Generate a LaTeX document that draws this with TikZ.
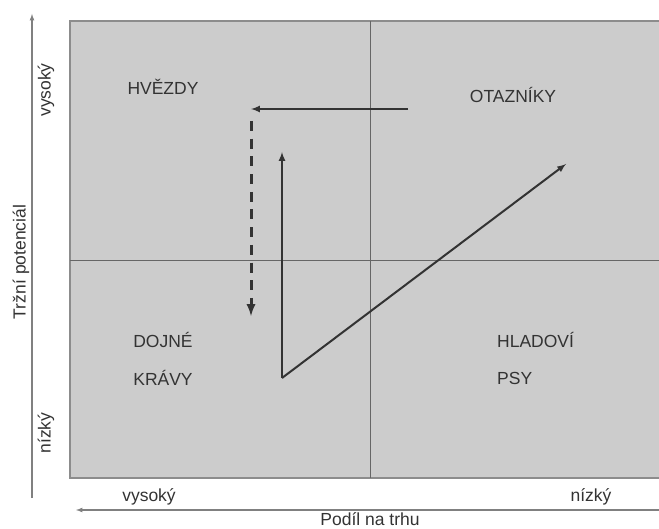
\documentclass[tikz,border=0pt]{standalone}
\usepackage{fontspec}
\setmainfont{Liberation Sans}
\usetikzlibrary{arrows}

\begin{document}
\begin{tikzpicture}[x=1pt,y=-1pt]
\tikzstyle{every node}=[font=\fontsize{17.5}{20}\selectfont,text=black!80,inner sep=0pt]
\tikzstyle{move}=[-latex,line width=2pt,draw=black!80]
\tikzstyle{axis}=[-latex,line width=1.2pt,draw=black!50]
\useasboundingbox (0,0) rectangle (659,529);
% matrix field
\fill[gray!40](70,21) rectangle (661,478);
\draw[black!45,line width=1.5pt](661,21)--(70,21)--(70,478)--(661,478);
\draw[black!60,line width=0.9pt](370,21)--(370,478);
\draw[black!60,line width=0.9pt](70,260)--(659,260);
% quadrant names
\node (hv) at (163,87) {HVĚZDY};
\node (ot) at (513,95) {OTAZNÍKY};
\node (dj) at (163,340) {DOJNÉ};
\node (kr) at (163,378) {KRÁVY};
\node[anchor=west] (hl) at (497,340) {HLADOVÍ};
\node[anchor=west] (psy) at (497,378) {PSY};
% axes
\coordinate (ya) at (32,498);
\coordinate (yb) at (32,14);
\coordinate (xa) at (659,510);
\coordinate (xb) at (76,510);
\draw[axis](ya)--(yb);
\draw[axis](xa)--(xb);
\node[rotate=90] (yhi) at (46,90) {vysoký};
\node[rotate=90] (ylab) at (21,262) {Tržní potenciál};
\node[rotate=90] (ylo) at (46,433) {nízký};
\node (xhi) at (149,497) {vysoký};
\node (xlo) at (591,497) {nízký};
\node (xlab) at (370,519) {Podíl na trhu};
% strategy moves
\coordinate (a1) at (408,109);
\coordinate (a2) at (251,109);
\coordinate (d1) at (251,121);
\coordinate (d2) at (251,316);
\coordinate (v0) at (282,378);
\coordinate (v1) at (282,152);
\coordinate (g1) at (566,164);
\draw[move](a1)--(a2);
\draw[move,line width=3pt,dash pattern=on 10pt off 7.7pt](d1)--(d2);
\draw[move](v0)--(v1);
\draw[move](v0)--(g1);
\end{tikzpicture}
\end{document}
